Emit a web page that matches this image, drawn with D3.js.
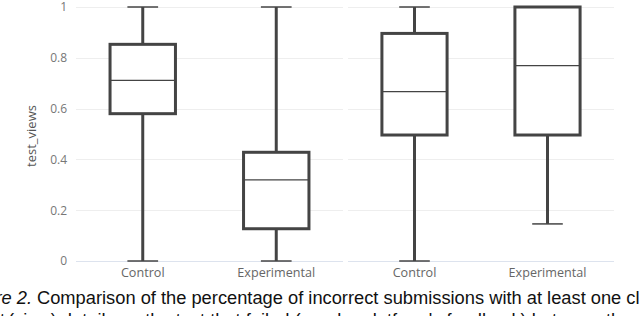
<!DOCTYPE html>
<html lang="en">
<head>
    <meta charset="UTF-8">
    <title>test_views boxplot</title>
    <script src="https://d3js.org/d3.v7.min.js"></script>
    <style>
        body { margin: 0; background: #fff; }
    </style>
</head>
<body>
<div id="my_dataviz"></div>
<script>

    // categories and tick labels
    var groups = ["Control", "Experimental"];
    var yTicks = [0, 0.2, 0.4, 0.6, 0.8, 1];

    // left panel (box stats)
    var leftLow  = [0, 0];
    var leftQ1   = [0.58, 0.127];
    var leftMed  = [0.711, 0.319];
    var leftQ3   = [0.853, 0.428];
    var leftHigh = [1, 1];

    // right panel
    var rightLow  = [0, 0.146];
    var rightQ1   = [0.496, 0.496];
    var rightMed  = [0.667, 0.769];
    var rightQ3   = [0.896, 1];
    var rightHigh = [1, 1];

    var width = 640, height = 316;

    var svg = d3.select("#my_dataviz")
        .append("svg")
        .attr("width", width)
        .attr("height", height);

    var y = d3.scaleLinear()
        .domain([0, 1])
        .range([261, 7]);

    var panels = [
        {x0: 76, x1: 343, low: leftLow, q1: leftQ1, med: leftMed, q3: leftQ3, high: leftHigh},
        {x0: 348, x1: 614, low: rightLow, q1: rightQ1, med: rightMed, q3: rightQ3, high: rightHigh}
    ];

    var col = "#444";

    panels.forEach(function(p) {
        var x = d3.scaleBand()
            .domain(groups)
            .range([p.x0, p.x1])
            .padding(0);

        // grid lines
        svg.append("g")
            .selectAll("line")
            .data(yTicks)
            .enter()
            .append("line")
            .attr("x1", p.x0)
            .attr("x2", p.x1)
            .attr("y1", function(d) { return Math.round(y(d)) + 0.5; })
            .attr("y2", function(d) { return Math.round(y(d)) + 0.5; })
            .attr("stroke", function(d) { return d === 0 ? "#dde3ee" : "#eeeeee"; })
            .attr("stroke-width", 1);

        // x axis labels
        var xAxis = svg.append("g")
            .attr("transform", "translate(0,265)")
            .call(d3.axisBottom(x).tickSize(0).tickPadding(0));
        xAxis.select(".domain").remove();
        xAxis.selectAll("text")
            .attr("dy", "0.71em")
            .attr("y", 3)
            .style("font-family", "'Open Sans', sans-serif")
            .style("font-size", "12.6px")
            .attr("fill", "#666");

        var bw = x.bandwidth() * 0.49;
        var capW = x.bandwidth() * 0.23;
        var data = groups.map(function(g, i) {
            return {g: g, low: p.low[i], q1: p.q1[i], med: p.med[i], q3: p.q3[i], high: p.high[i]};
        });
        var cx = function(d) { return x(d.g) + x.bandwidth() / 2; };

        var box = svg.append("g").selectAll("g")
            .data(data)
            .enter()
            .append("g");

        // whiskers
        box.append("line")
            .attr("x1", cx).attr("x2", cx)
            .attr("y1", function(d) { return y(d.high); })
            .attr("y2", function(d) { return y(d.low); })
            .attr("stroke", col)
            .attr("stroke-width", 3);

        // caps
        box.selectAll(".cap")
            .data(function(d) { return [{c: cx(d), v: d.low}, {c: cx(d), v: d.high}]; })
            .enter()
            .append("line")
            .attr("class", "cap")
            .attr("x1", function(d) { return d.c - capW / 2; })
            .attr("x2", function(d) { return d.c + capW / 2; })
            .attr("y1", function(d) { return y(d.v); })
            .attr("y2", function(d) { return y(d.v); })
            .attr("stroke", col)
            .attr("stroke-width", 1.5);

        // box
        box.append("rect")
            .attr("x", function(d) { return cx(d) - bw / 2; })
            .attr("y", function(d) { return y(d.q3); })
            .attr("width", bw)
            .attr("height", function(d) { return y(d.q1) - y(d.q3); })
            .attr("fill", "#fff")
            .attr("stroke", col)
            .attr("stroke-width", 3);

        // median
        box.append("line")
            .attr("x1", function(d) { return cx(d) - bw / 2; })
            .attr("x2", function(d) { return cx(d) + bw / 2; })
            .attr("y1", function(d) { return y(d.med); })
            .attr("y2", function(d) { return y(d.med); })
            .attr("stroke", col)
            .attr("stroke-width", 1.2);
    });

    // y axis tick labels
    var yAxis = svg.append("g")
        .attr("transform", "translate(67,0)")
        .call(d3.axisLeft(y).tickValues(yTicks).tickSize(0).tickPadding(0)
            .tickFormat(function(d) { return d3.format("")(d); }));
    yAxis.select(".domain").remove();
    yAxis.selectAll("text")
        .style("font-family", "'Open Sans', sans-serif")
        .style("font-size", "12px")
        .attr("fill", "#777");

    // y axis title
    svg.append("text")
        .attr("transform", "translate(36,136) rotate(-90)")
        .attr("text-anchor", "middle")
        .style("font-family", "'Open Sans', sans-serif")
        .style("font-size", "13px")
        .attr("fill", "#555")
        .text("test_views");

    // caption (cut off like the source crop)
    var cap = svg.append("g")
        .style("font-family", "'Liberation Sans', Arial, sans-serif")
        .style("font-size", "18.3px")
        .attr("fill", "#111");
    cap.append("text")
        .attr("x", 32).attr("y", 304)
        .attr("text-anchor", "end")
        .style("font-style", "italic")
        .text("Figure 2.");
    cap.append("text")
        .attr("x", 37).attr("y", 304)
        .text("Comparison of the percentage of incorrect submissions with at least one click to see");
    cap.append("text")
        .attr("x", 8).attr("y", 326)
        .text("(view) details on the test that failed (regular platform's feedback) between the groups");
    cap.append("text")
        .attr("x", 5).attr("y", 326)
        .attr("text-anchor", "end")
        .text("the test");

</script>
</body>
</html>
